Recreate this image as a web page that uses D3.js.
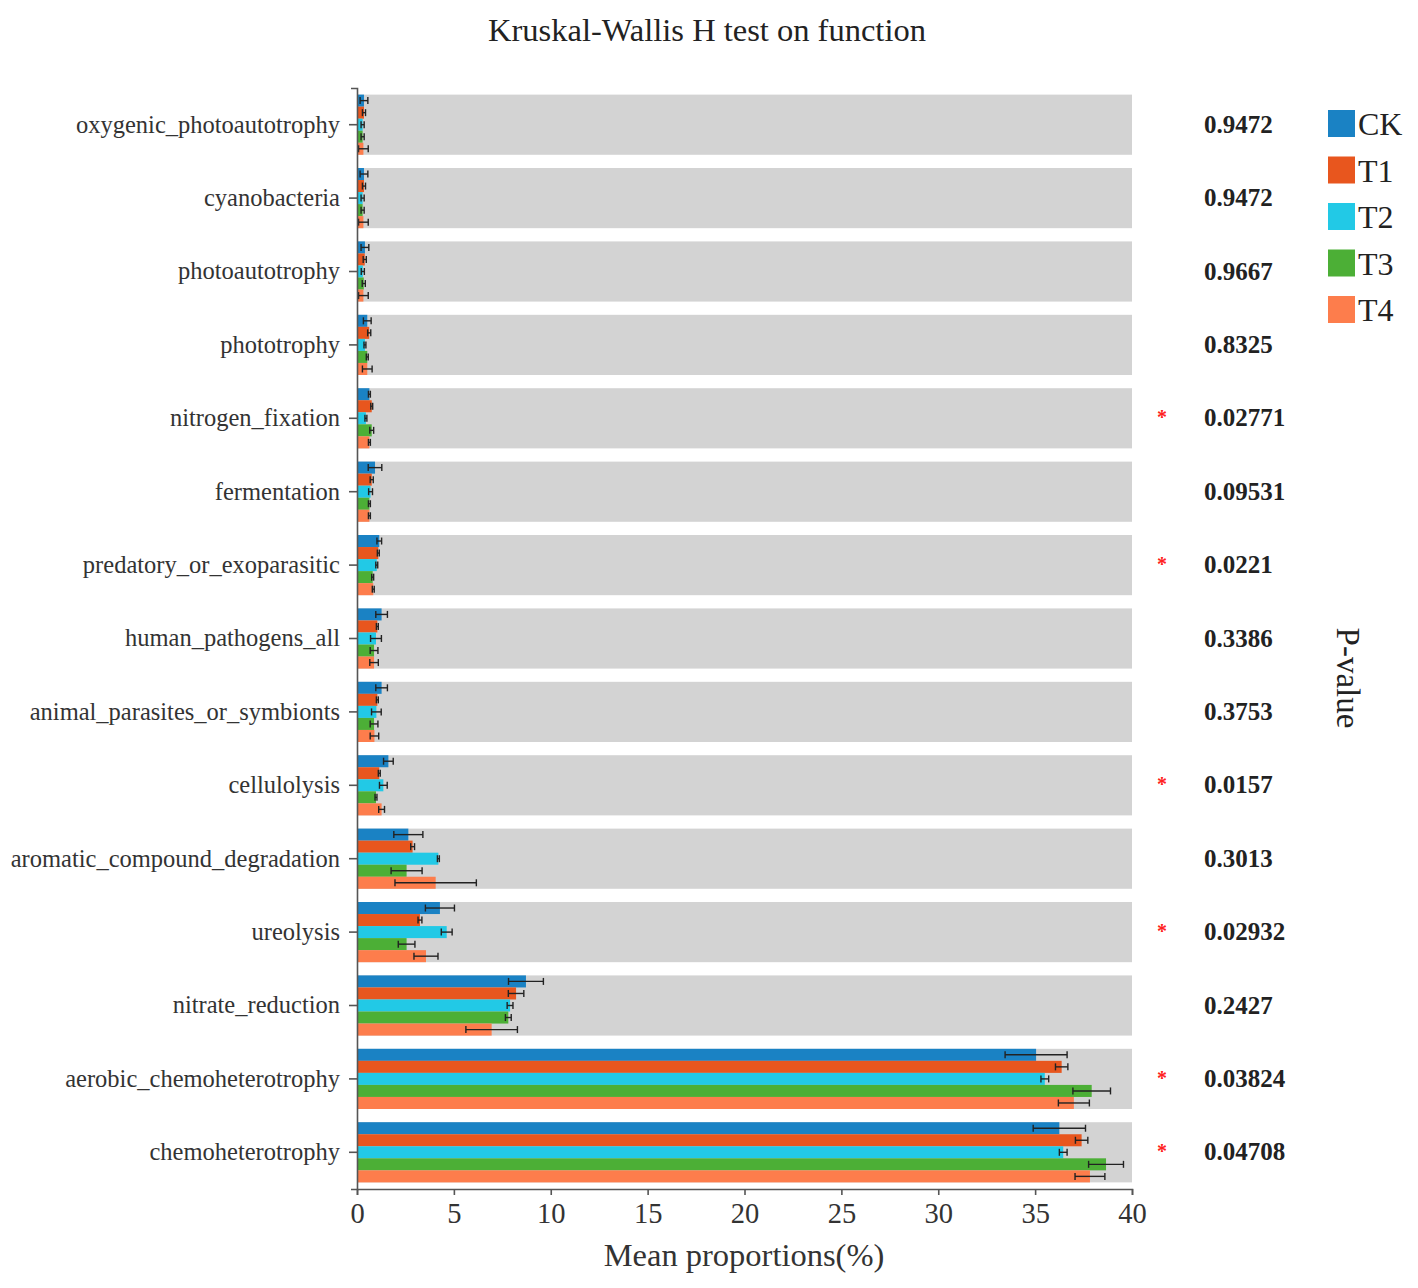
<!DOCTYPE html>
<html><head><meta charset="utf-8">
<script src="https://cdn.jsdelivr.net/npm/d3@7"></script>
<style>
html,body{margin:0;padding:0;background:#fff;}
svg text{font-family:"Liberation Serif","Times New Roman",serif;}
</style></head>
<body>
<svg id="chart" width="1418" height="1288"></svg>
<script>
const categories = ["oxygenic_photoautotrophy","cyanobacteria","photoautotrophy","phototrophy","nitrogen_fixation","fermentation","predatory_or_exoparasitic","human_pathogens_all","animal_parasites_or_symbionts","cellulolysis","aromatic_compound_degradation","ureolysis","nitrate_reduction","aerobic_chemoheterotrophy","chemoheterotrophy"];
const pValues = ["0.9472","0.9472","0.9667","0.8325","0.02771","0.09531","0.0221","0.3386","0.3753","0.0157","0.3013","0.02932","0.2427","0.03824","0.04708"];
const groups = ["CK","T1","T2","T3","T4"];
const colors = ["#1a82c4","#e8561e","#22c9e6","#4caf36","#fd7d4c"];
const meanCK = [0.36,0.36,0.41,0.53,0.64,0.93,1.15,1.27,1.27,1.62,2.65,4.28,8.72,35.05,36.25];
const errCK  = [0.2,0.2,0.2,0.2,0.05,0.35,0.12,0.3,0.3,0.25,0.75,0.75,0.9,1.6,1.35];
const meanT1 = [0.36,0.36,0.4,0.63,0.76,0.76,1.1,1.05,1.05,1.15,2.87,3.25,8.21,36.37,37.4];
const errT1  = [0.08,0.08,0.08,0.08,0.05,0.08,0.05,0.05,0.05,0.05,0.1,0.1,0.4,0.32,0.32];
const meanT2 = [0.29,0.29,0.3,0.41,0.46,0.7,1.02,0.98,1.0,1.36,4.2,4.63,7.9,35.5,36.45];
const errT2  = [0.08,0.08,0.08,0.05,0.05,0.1,0.05,0.28,0.25,0.2,0.05,0.28,0.15,0.2,0.2];
const meanT3 = [0.29,0.29,0.35,0.53,0.76,0.64,0.81,0.88,0.88,0.98,2.56,2.56,7.81,37.92,38.66];
const errT3  = [0.08,0.08,0.08,0.05,0.1,0.05,0.05,0.2,0.2,0.05,0.8,0.43,0.15,0.97,0.9];
const meanT4 = [0.33,0.33,0.33,0.53,0.64,0.64,0.84,0.88,0.9,1.27,4.06,3.56,6.95,37.0,37.83];
const errT4  = [0.25,0.25,0.25,0.25,0.05,0.05,0.05,0.22,0.22,0.15,2.1,0.62,1.33,0.8,0.77];
const xTicks = [0,5,10,15,20,25,30,35,40];

const means = [meanCK, meanT1, meanT2, meanT3, meanT4];
const errs = [errCK, errT1, errT2, errT3, errT4];

const svg = d3.select("#chart");
const plotLeft = 357, plotRight = 1132, plotTop = 88, plotBottom = 1189;

const x = d3.scaleLinear().domain([0, 40]).range([plotLeft, plotRight]);
const y = d3.scaleBand().domain(categories).range([plotTop, plotBottom]).paddingInner(0.18).paddingOuter(0.09);
const yInner = d3.scaleBand().domain(groups).range([0, y.bandwidth()]).padding(0);

// title
svg.append("text").attr("x", 707).attr("y", 41).attr("text-anchor", "middle")
  .attr("font-size", 32.5).attr("fill", "#222").text("Kruskal-Wallis H test on function");

// grey bands
svg.append("g").selectAll("rect").data(categories).join("rect")
  .attr("x", x(0)).attr("y", d => y(d)).attr("width", x(40) - x(0)).attr("height", y.bandwidth())
  .attr("fill", "#d3d3d3");

// bars
const rows = categories.map((c, i) => ({c, i}));
const rowG = svg.append("g").selectAll("g").data(rows).join("g")
  .attr("transform", d => `translate(0,${y(d.c)})`);

groups.forEach((g, gi) => {
  rowG.append("rect")
    .attr("x", x(0))
    .attr("y", yInner(g))
    .attr("width", d => x(means[gi][d.i]) - x(0))
    .attr("height", yInner.bandwidth())
    .attr("fill", colors[gi]);
});

// error bars
groups.forEach((g, gi) => {
  const cy = yInner(g) + yInner.bandwidth() / 2;
  const lo = d => x(Math.max(0, means[gi][d.i] - errs[gi][d.i]));
  const hi = d => x(means[gi][d.i] + errs[gi][d.i]);
  const eg = rowG.append("g").attr("stroke", "#222").attr("stroke-width", 1.4);
  eg.append("line").attr("x1", lo).attr("x2", hi).attr("y1", cy).attr("y2", cy);
  eg.append("line").attr("x1", lo).attr("x2", lo).attr("y1", cy - 3.5).attr("y2", cy + 3.5);
  eg.append("line").attr("x1", hi).attr("x2", hi).attr("y1", cy - 3.5).attr("y2", cy + 3.5);
});

// left axis
const yAxis = svg.append("g").attr("transform", `translate(${plotLeft},0)`)
  .call(d3.axisLeft(y).tickSize(8).tickSizeOuter(6).tickPadding(9));
yAxis.selectAll("text").attr("font-size", 24.5).attr("fill", "#333")
  .style("font-family", '"Liberation Serif","Times New Roman",serif');
yAxis.selectAll("line,path").attr("stroke", "#555").attr("stroke-width", 1.6);

// bottom axis
const xAxis = svg.append("g").attr("transform", `translate(0,${plotBottom})`)
  .call(d3.axisBottom(x).tickValues(xTicks).tickSize(6).tickSizeOuter(6).tickPadding(8));
xAxis.selectAll("text").attr("font-size", 28.5).attr("fill", "#333")
  .style("font-family", '"Liberation Serif","Times New Roman",serif');
xAxis.selectAll("line,path").attr("stroke", "#555").attr("stroke-width", 1.6);

svg.append("text").attr("x", 744).attr("y", 1266).attr("text-anchor", "middle")
  .attr("font-size", 32.5).attr("fill", "#333").text("Mean proportions(%)");

// p-values
svg.append("g").selectAll("text").data(rows).join("text")
  .attr("x", 1204).attr("y", d => y(d.c) + y.bandwidth() / 2 + 8)
  .attr("font-size", 25).attr("font-weight", "bold").attr("fill", "#222")
  .text(d => pValues[d.i]);

svg.append("g").selectAll("text").data(rows.filter(d => +pValues[d.i] < 0.05)).join("text")
  .attr("x", 1162).attr("y", d => y(d.c) + y.bandwidth() / 2 + 6)
  .attr("text-anchor", "middle").attr("font-size", 20).attr("font-weight", "bold")
  .attr("fill", "#ff2020").text("*");

svg.append("text").attr("transform", "translate(1337,678) rotate(90)")
  .attr("text-anchor", "middle").attr("font-size", 33).attr("fill", "#222").text("P-value");

// legend
const leg = svg.append("g").selectAll("g").data(groups).join("g")
  .attr("transform", (d, i) => `translate(1328,${110 + i * 46.5})`);
leg.append("rect").attr("width", 27).attr("height", 27).attr("fill", (d, i) => colors[i]);
leg.append("text").attr("x", 30).attr("y", 25).attr("font-size", 32).attr("fill", "#222").text(d => d);
</script>
</body></html>
